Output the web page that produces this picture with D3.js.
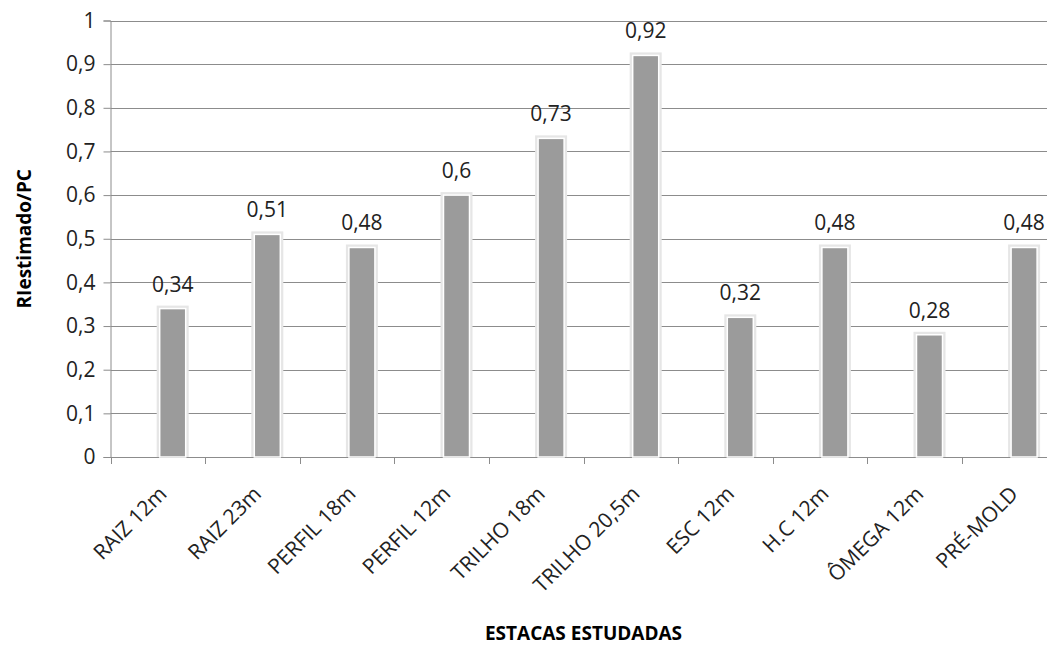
<!DOCTYPE html>
<html><head><meta charset="utf-8">
<script src="https://cdn.jsdelivr.net/npm/d3@7"></script>
<style>body{margin:0;background:#fff}svg{display:block}</style>
</head><body>
<script>
const categories = ["RAIZ 12m","RAIZ 23m","PERFIL 18m","PERFIL 12m","TRILHO 18m","TRILHO 20,5m","ESC 12m","H.C 12m","ÔMEGA 12m","PRÉ-MOLD"];
const values = [0.34,0.51,0.48,0.6,0.73,0.92,0.32,0.48,0.28,0.48];
const yTicks = [0,0.1,0.2,0.3,0.4,0.5,0.6,0.7,0.8,0.9,1];
const yTitle = "RIestimado/PC";
const xTitle = "ESTACAS ESTUDADAS";

const W = 1047, H = 648;
const m = {left:110.5, top:20.5, right:1056.5, bottom:457};
const font = "'Open Sans', 'Liberation Sans', sans-serif";
const fmt = v => String(+v.toFixed(2)).replace(".", ",");

const svg = d3.select("body").append("svg").attr("width", W).attr("height", H);
const x = d3.scaleBand().domain(categories).range([m.left, m.right]).padding(0);
const y = d3.scaleLinear().domain([0,1]).range([m.bottom, m.top]);

// gridlines
svg.append("g").selectAll("line").data(yTicks.filter(d=>d>0)).join("line")
  .attr("x1", m.left).attr("x2", W).attr("y1", d=>Math.round(y(d))+0.5).attr("y2", d=>Math.round(y(d))+0.5)
  .attr("stroke", "#8c8c8c").attr("stroke-width", 1);

// y axis
const yAxis = d3.axisLeft(y).tickValues(yTicks).tickFormat(fmt).tickSize(7).tickPadding(8);
const gy = svg.append("g").attr("transform", `translate(${m.left},0)`).call(yAxis);
gy.select(".domain").attr("stroke", "#8c8c8c");
gy.selectAll(".tick line").attr("stroke", "#8c8c8c");
gy.selectAll(".tick text").attr("font-family", font).attr("font-size", 21).attr("fill", "#222");

// x axis
const xAxis = d3.axisBottom(x).tickSize(0).tickFormat(d=>d);
const gx = svg.append("g").attr("transform", `translate(0,${m.bottom})`).call(xAxis);
gx.select(".domain").attr("stroke", "#8c8c8c").attr("d", `M${m.left},0.5H${W}`);
gx.selectAll(".tick text").attr("font-family", font).attr("font-size", 21).attr("fill", "#222")
  .attr("text-anchor", "end").attr("dy", 0)
  .attr("transform", "translate(8,36) rotate(-45)");
// category boundary ticks
svg.append("g").selectAll("line").data(categories).join("line")
  .attr("x1", d=>Math.round(x(d))+0.5).attr("x2", d=>Math.round(x(d))+0.5)
  .attr("y1", m.bottom).attr("y2", m.bottom+7).attr("stroke", "#8c8c8c");

// bars
const bw = x.bandwidth()*0.275;
const bx = d => x(d) + x.bandwidth()*0.52;
const bars = svg.append("g");
bars.selectAll("rect.shadow").data(values).join("rect").attr("class","shadow")
  .attr("x", (d,i)=>bx(categories[i])-3).attr("y", d=>y(d)-3)
  .attr("width", bw+6).attr("height", d=>m.bottom-y(d)+3)
  .attr("fill", "#e6e6e6");
bars.selectAll("rect.bar").data(values).join("rect").attr("class","bar")
  .attr("x", (d,i)=>bx(categories[i])).attr("y", d=>y(d))
  .attr("width", bw).attr("height", d=>m.bottom-y(d))
  .attr("fill", "#9b9b9b").attr("stroke", "#ffffff").attr("stroke-width", 1.5);

// labels
svg.append("g").selectAll("text").data(values).join("text")
  .attr("x", (d,i)=>bx(categories[i])+bw/2).attr("y", d=>y(d)-17)
  .attr("text-anchor", "middle").attr("font-family", font).attr("font-size", 21).attr("fill", "#222")
  .text(fmt);

// titles
svg.append("text").attr("transform", `translate(31,${(m.top+m.bottom)/2}) rotate(-90)`).attr("text-anchor", "middle")
  .attr("font-family", font).attr("font-weight", "bold").attr("font-size", 19).attr("fill", "#000").text(yTitle);
svg.append("text").attr("x", (m.left+m.right)/2).attr("y", 640).attr("text-anchor", "middle")
  .attr("font-family", font).attr("font-weight", "bold").attr("font-size", 19).attr("fill", "#000").text(xTitle);
</script>
</body></html>
